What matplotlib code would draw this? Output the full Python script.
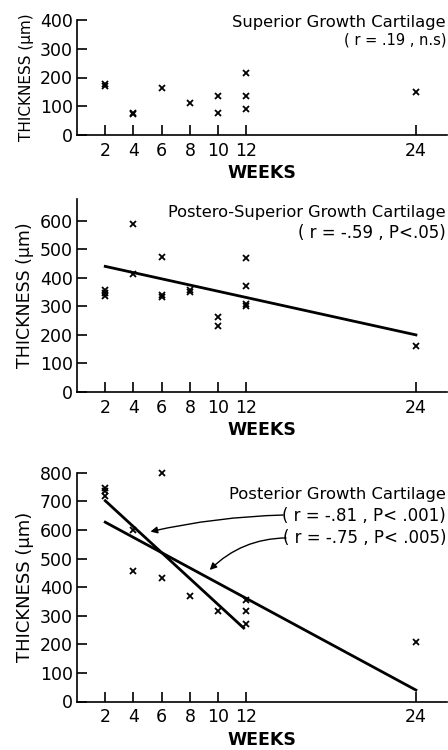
import matplotlib
matplotlib.use("Agg")
import matplotlib.pyplot as plt

plt.rcParams["font.family"] = ["DejaVu Sans"]

# superior growth cartilage
weeks_sup = [2, 2, 4, 4, 6, 8, 10, 10, 12, 12, 12, 24]
thick_sup = [170, 178, 72, 78, 165, 110, 135, 75, 215, 135, 90, 150]

# postero-superior growth cartilage
weeks_ps = [2, 2, 2, 4, 4, 6, 6, 6, 8, 8, 10, 10, 12, 12, 12, 12, 24]
thick_ps = [358, 347, 336, 588, 415, 472, 340, 332, 358, 350, 262, 232, 468, 372, 308, 300, 162]
fit_ps_x = [2, 24]
fit_ps_y = [440, 200]

# posterior growth cartilage
weeks_post = [2, 2, 2, 4, 4, 6, 6, 8, 10, 12, 12, 12, 24]
thick_post = [745, 735, 720, 600, 455, 800, 432, 368, 315, 355, 315, 272, 207]
fit_post12_x = [2, 11.8]
fit_post12_y = [702, 257]
fit_post24_x = [2, 24]
fit_post24_y = [627, 40]

xticks = [2, 4, 6, 8, 10, 12, 24]

W, H = 448, 750
fig = plt.figure(figsize=(W / 100, H / 100), dpi=100)


def px_axes(left, top, right, bottom):
    return fig.add_axes([left / W, 1 - bottom / H, (right - left) / W, (bottom - top) / H])


def style(ax, ymax, ystep, ylab_size):
    ax.set_xlim(0, 26.2)
    ax.set_ylim(0, ymax)
    ax.set_xticks(xticks)
    ax.set_yticks(range(0, ymax + 1, ystep))
    for s in ["top", "right"]:
        ax.spines[s].set_visible(False)
    for s in ["left", "bottom"]:
        ax.spines[s].set_linewidth(1.2)
    ax.tick_params(axis="both", direction="in", length=7, width=1.2, labelsize=12.5)
    ax.tick_params(axis="y", pad=3)
    ax.tick_params(axis="x", pad=5)
    ax.set_xlabel("WEEKS", fontsize=12.5, fontweight="bold", labelpad=3)
    ax.set_ylabel("THICKNESS (\u03bcm)", fontsize=ylab_size, labelpad=4)


def ftext(x, y, s, size=11):
    fig.text(x / W, 1 - y / H, s, ha="right", va="center", fontsize=size)


mk = dict(marker="x", ls="none", color="k", ms=5, mew=1.3, clip_on=False)
arrow = dict(arrowstyle="-|>", color="k", lw=1, mutation_scale=10, shrinkA=0, shrinkB=0)

ax1 = px_axes(77, 20, 447, 135)
ax1.plot(weeks_sup, thick_sup, **mk)
style(ax1, 400, 100, 11)
ftext(446, 23, "Superior Growth Cartilage", 11.8)
ftext(446, 40, "( r = .19 , n.s)", 10.5)

ax2 = px_axes(77, 199, 447, 392)
ax2.plot(weeks_ps, thick_ps, **mk)
ax2.plot(fit_ps_x, fit_ps_y, color="k", lw=2)
style(ax2, 676, 100, 12.5)
ax2.set_ylim(0, 676)
ftext(446, 213, "Postero-Superior Growth Cartilage", 11.7)
ftext(446, 233, "( r = -.59 , P<.05)", 12)

ax3 = px_axes(77, 472.7, 447, 701.5)
ax3.plot(weeks_post, thick_post, **mk)
ax3.plot(fit_post12_x, fit_post12_y, color="k", lw=2)
ax3.plot(fit_post24_x, fit_post24_y, color="k", lw=2)
style(ax3, 800, 100, 13)
ftext(446, 495, "Posterior Growth Cartilage", 11.8)
ftext(446, 516, "( r = -.81 , P< .001)", 12)
ftext(446, 538, "( r = -.75 , P< .005)", 12)

ax3.annotate("", xy=(5.2, 594), xytext=(14.6, 652),
             arrowprops=dict(connectionstyle="arc3,rad=0.05", **arrow))
ax3.annotate("", xy=(9.4, 460), xytext=(14.8, 572),
             arrowprops=dict(connectionstyle="arc3,rad=0.2", **arrow))

fig.savefig("out.png", dpi=100)
